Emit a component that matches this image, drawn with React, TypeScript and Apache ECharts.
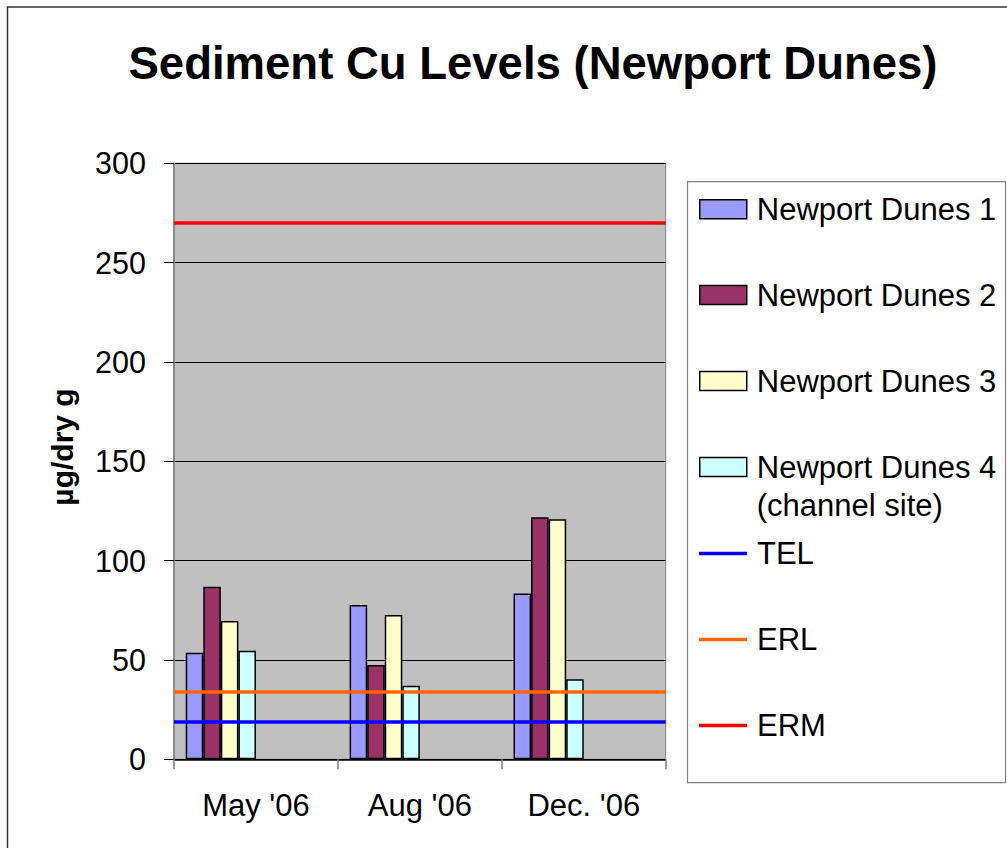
import React, { useEffect, useRef } from "react";
import * as echarts from "echarts";

const categories = ["May '06", "Aug '06", "Dec. '06"];
const nd1 = [53.6, 77.7, 83.5];
const nd2 = [86.9, 47.5, 121.8];
const nd3 = [69.6, 72.6, 120.8];
const nd4 = [54.6, 37.0, 40.3];
const barNames = ["Newport Dunes 1", "Newport Dunes 2", "Newport Dunes 3", "Newport Dunes 4 (channel site)"];
const barColors = ["#9999FF", "#993366", "#FFFFCC", "#CCFFFF"];
const refNames = ["TEL", "ERL", "ERM"];
const refValues = [18.7, 34, 270];
const refColors = ["#0000FF", "#FF6600", "#FF0000"];
const yMin = 0;
const yMax = 300;
const yInterval = 50;
const title = "Sediment Cu Levels (Newport Dunes)";
const yName = "µg/dry g";

const FONT = "'Liberation Sans', Arial, sans-serif";

export default function App() {
  const ref = useRef<HTMLDivElement>(null);
  useEffect(() => {
    if (!ref.current) return;
    const chart = echarts.init(ref.current, undefined, { renderer: "svg" });
    const barData = [nd1, nd2, nd3, nd4];
    const series: any[] = [];
    barData.forEach((d, i) => {
      series.push({
        type: "bar",
        name: barNames[i],
        data: d,
        barGap: "0%",
        barCategoryGap: "14.3%",
        itemStyle: { color: barColors[i], borderColor: "#000", borderWidth: 1.5 },
        z: 2,
      });
    });
    for (let i = 0; i < 4; i++) {
      series.push({
        type: "bar",
        name: "_slot" + i,
        data: categories.map(() => null),
        barGap: "0%",
        barCategoryGap: "14.3%",
        silent: true,
      });
    }
    refNames.forEach((n, i) => {
      series.push({
        type: "line",
        name: n,
        data: [],
        symbol: "none",
        color: refColors[i],
        lineStyle: { color: refColors[i], width: 3.5 },
        z: 5,
        markLine: {
          silent: true,
          symbol: ["none", "none"],
          label: { show: false },
          lineStyle: { color: refColors[i], width: 3.5, type: "solid" },
          data: [{ yAxis: refValues[i] }],
          z: 5,
        },
      });
    });

    const legendCenters = [208.8, 294.5, 380.5, 467, 553, 639, 725];
    const allLegendNames = [...barNames, ...refNames];
    const legends = allLegendNames.map((n, i) => {
      const isBar = i < 4;
      const isTwoLine = i === 3;
      const base: any = {
        data: [n],
        left: 699,
        padding: 0,
        itemWidth: isBar ? 47 : 48,
        itemHeight: isBar ? 19 : 3.5,
        selectedMode: false,
        textStyle: {
          fontSize: 31,
          fontFamily: FONT,
          color: "#000",
          padding: [0, 0, 0, 5],
          lineHeight: isTwoLine ? 38 : undefined,
        },
        formatter: isTwoLine ? () => "\nNewport Dunes 4\n(channel site)" : undefined,
      };
      if (isTwoLine) {
        base.top = legendCenters[i] - 9.5 - 47.5;
      } else {
        base.top = legendCenters[i] - 15;
      }
      if (isBar) {
        base.icon = "rect";
        base.itemStyle = { borderColor: "#000", borderWidth: 1.5 };
      } else {
        base.icon = "rect";
        base.itemStyle = { color: refColors[i - 4], borderWidth: 0 };
      }
      return base;
    });

    chart.setOption({
      animation: false,
      backgroundColor: "#fff",
      title: {
        text: title,
        left: 528,
        top: 35,
        textAlign: "center",
        textStyle: { fontSize: 45.5, fontWeight: "bold", fontFamily: FONT, color: "#000" },
      },
      grid: {
        left: 174,
        top: 163.3,
        right: 1007 - 665.7,
        bottom: 848 - 759.3,
        show: true,
        backgroundColor: "#C0C0C0",
        borderColor: "#808080",
        borderWidth: 1,
      },
      legend: legends,
      xAxis: {
        type: "category",
        data: categories,
        boundaryGap: true,
        axisLine: { show: true, lineStyle: { color: "#000", width: 1.5 } },
        axisTick: { show: true, length: 10, interval: 0, lineStyle: { color: "#808080", width: 1.5 } },
        axisLabel: { fontSize: 31, fontFamily: FONT, color: "#000", margin: 31, interval: 0 },
        splitLine: { show: false },
      },
      yAxis: {
        type: "value",
        min: yMin,
        max: yMax,
        interval: yInterval,
        axisLine: { show: true, lineStyle: { color: "#808080", width: 1.5 } },
        axisTick: { show: true, length: 10, lineStyle: { color: "#000", width: 1 } },
        axisLabel: { fontSize: 30.5, fontFamily: FONT, color: "#000", margin: 28 },
        splitLine: { show: true, lineStyle: { color: "#000", width: 1 } },
      },
      graphic: [
        {
          type: "rect",
          z: -10,
          silent: true,
          shape: { x: 7.5, y: 7, width: 1100, height: 1000 },
          style: { fill: "none", stroke: "#333", lineWidth: 1.5 },
        },
        {
          type: "rect",
          z: -5,
          silent: true,
          shape: { x: 687.5, y: 181.7, width: 318, height: 601 },
          style: { fill: "#fff", stroke: "#808080", lineWidth: 1.2 },
        },
        {
          type: "text",
          x: 62,
          y: 447,
          rotation: Math.PI / 2,
          style: {
            text: yName,
            fontSize: 30,
            fontWeight: "bold",
            fontFamily: FONT,
            fill: "#000",
            align: "center",
            verticalAlign: "middle",
          },
        },
      ],
      series,
    });
    return () => chart.dispose();
  }, []);
  return (
    <div
      ref={ref}
      style={{ position: "absolute", left: 0, top: 0, width: 1007, height: 848 }}
    />
  );
}
